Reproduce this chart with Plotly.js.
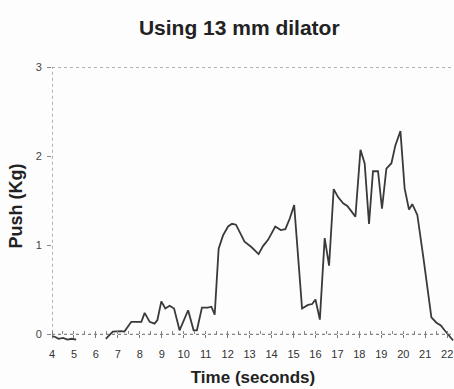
<!DOCTYPE html>
<html>
<head>
<meta charset="utf-8">
<script src="https://cdn.plot.ly/plotly-3.0.1.min.js"></script>
<style>html,body{margin:0;padding:0;background:#fff;}#chart{width:454px;height:389px;}</style>
</head>
<body>
<div id="chart"></div>
<script>
// Time (seconds)
const timeSec = [4.0, 4.15, 4.3, 4.5, 4.7, 4.9, 5.1, 5.8,
  6.45, 6.77, 7.16, 7.3, 7.61, 8.07, 8.22, 8.45, 8.67, 8.8, 8.98, 9.16, 9.36, 9.56, 9.81,
  10.2, 10.45, 10.6, 10.83, 11.1, 11.26, 11.41, 11.59, 11.79, 12.02, 12.2, 12.38, 12.55,
  12.77, 13.08, 13.41, 13.61, 13.84, 14.17, 14.42, 14.63, 14.83, 15.03, 15.39, 15.66,
  15.85, 16.0, 16.2, 16.42, 16.62, 16.83, 17.03, 17.26, 17.45, 17.64, 17.82, 18.05,
  18.24, 18.44, 18.62, 18.85, 19.03, 19.23, 19.46, 19.64, 19.87, 20.06, 20.26, 20.41,
  20.64, 20.9, 21.13, 21.28, 21.51, 21.71, 21.88, 22.27];
// Push (Kg)
const pushKg = [-0.02, -0.03, -0.05, -0.04, -0.06, -0.05, -0.06, null,
  -0.05, 0.03, 0.035, 0.03, 0.14, 0.14, 0.24, 0.14, 0.12, 0.16, 0.37, 0.29, 0.32, 0.29, 0.045,
  0.27, 0.045, 0.045, 0.30, 0.30, 0.31, 0.22, 0.96, 1.11, 1.21, 1.24, 1.23, 1.15,
  1.04, 0.98, 0.90, 0.99, 1.06, 1.21, 1.17, 1.18, 1.30, 1.45, 0.29, 0.33,
  0.34, 0.39, 0.165, 1.08, 0.77, 1.63, 1.54, 1.47, 1.44, 1.38, 1.32, 2.07,
  1.92, 1.24, 1.83, 1.83, 1.41, 1.86, 1.92, 2.12, 2.28, 1.64, 1.40, 1.46,
  1.34, 0.89, 0.46, 0.19, 0.13, 0.10, 0.045, -0.07];
const xTicks = [4,5,6,7,8,9,10,11,12,13,14,15,16,17,18,19,20,21,22];
const yTicks = [0,1,2,3];

const font = "'Liberation Sans', Arial, Helvetica, sans-serif";
const yMin = -0.12, yMax = 3;

const trace = {
  x: timeSec, y: pushKg, type: 'scatter', mode: 'lines',
  line: {color: '#3a3a3a', width: 1.8}, connectgaps: false, hoverinfo: 'skip'
};

const layout = {
  width: 454, height: 389,
  margin: {l: 52, r: 0, t: 67, b: 44},
  paper_bgcolor: '#fdfdfd', plot_bgcolor: '#fdfdfd',
  showlegend: false,
  title: {text: 'Using 13 mm dilator', font: {family: font, size: 21, color: '#222', weight: 'bold'},
          x: 0.527, xref: 'container', xanchor: 'center', y: 0.93, yref: 'container', yanchor: 'middle'},
  xaxis: {
    range: [4, 22.31], tickvals: xTicks, ticktext: xTicks.map(String),
    anchor: 'free', position: (0 - yMin) / (yMax - yMin),
    showgrid: false, zeroline: false, showline: false,
    ticks: 'outside', ticklen: 3, tickcolor: '#777', tickwidth: 1,
    minor: {dtick: 0.5, tick0: 4, ticks: 'inside', ticklen: 3, tickcolor: '#888', showgrid: false},
    ticklabelstandoff: 6,
    tickfont: {family: font, size: 11, color: '#333'},
    title: {text: 'Time (seconds)', font: {family: font, size: 17, color: '#222', weight: 'bold'}, standoff: 12}
  },
  yaxis: {
    range: [yMin, yMax], tickvals: yTicks, ticktext: yTicks.map(String),
    showgrid: false, zeroline: false, showline: false,
    ticks: 'outside', ticklen: 4, tickcolor: '#888', tickwidth: 1,
    ticklabelstandoff: 3,
    tickfont: {family: font, size: 11, color: '#444'},
    title: {text: 'Push (Kg)', font: {family: font, size: 18, color: '#222', weight: 'bold'}, standoff: 8}
  },
  shapes: [
    {type: 'line', xref: 'paper', yref: 'y', x0: 0, x1: 1, y0: 0, y1: 0, line: {color: '#666', width: 1, dash: 'dot'}},
    {type: 'line', xref: 'paper', yref: 'y', x0: 0, x1: 1, y0: 3, y1: 3, line: {color: '#666', width: 1, dash: 'dot'}},
    {type: 'line', xref: 'x', yref: 'y', x0: 4, x1: 4, y0: -0.05, y1: 3, line: {color: '#666', width: 1, dash: 'dot'}}
  ]
};

Plotly.newPlot('chart', [trace], layout, {staticPlot: true, displayModeBar: false});
</script>
</body>
</html>
